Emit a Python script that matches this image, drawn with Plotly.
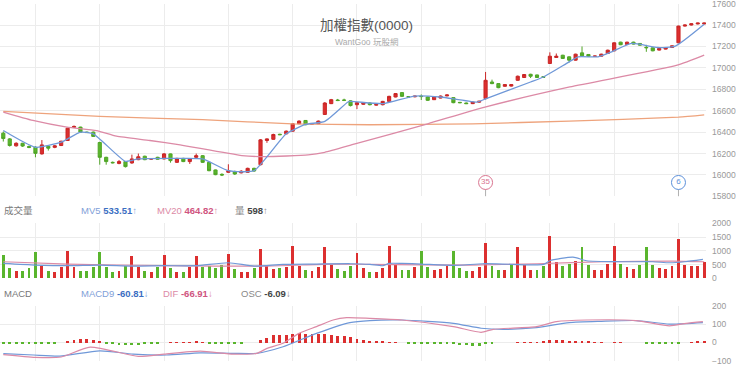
import plotly.graph_objects as go

# ---------------- data ----------------
opens = [16390,16337,16272,16296,16265,16259,16197,16268,16258,16275,
         16322,16445,16447,16400,16400,16303,16165,16118,16108,16125,
         16112,16143,16175,16148,16165,16150,16197,16118,16155,16125,
         16165,16180,16118,16047,16006,16025,16033,16020,16025,16062,
         16096,16322,16333,16380,16384,16409,16478,16509,16474,16478,
         16565,16666,16700,16700,16692,16656,16660,16672,16652,16656,
         16687,16728,16769,16730,16730,16736,16728,16703,16718,16738,
         16722,16678,16672,16666,16680,16713,16868,16853,16828,16830,
         16884,16910,16940,16934,16918,17041,17097,17118,17103,17072,
         17140,17125,17108,17109,17134,17159,17240,17219,17240,17228,
         17192,17187,17166,17175,17190,17234,17390,17400,17410,17410]
highs = [16406,16345,16305,16300,16275,16268,16326,16275,16280,16320,
         16440,16462,16450,16405,16405,16310,16170,16125,16140,16130,
         16190,16200,16180,16158,16170,16205,16200,16160,16160,16155,
         16200,16185,16120,16050,16015,16100,16040,16045,16068,16068,
         16335,16342,16385,16385,16415,16485,16510,16512,16485,16508,
         16680,16710,16710,16712,16697,16680,16680,16678,16662,16692,
         16740,16765,16772,16735,16740,16752,16732,16732,16742,16752,
         16726,16682,16676,16685,16692,16962,16890,16856,16848,16848,
         16928,16942,16945,16937,16922,17145,17134,17122,17106,17132,
         17200,17128,17114,17132,17170,17238,17244,17244,17244,17231,
         17215,17190,17185,17194,17210,17394,17404,17416,17422,17422]
lows = [16312,16265,16265,16262,16250,16165,16190,16228,16250,16270,
        16318,16440,16395,16392,16355,16096,16096,16108,16100,16070,
        16105,16138,16138,16142,16142,16145,16115,16112,16120,16103,
        16160,16112,16035,15998,15990,16020,16000,16015,16020,16030,
        16090,16300,16330,16372,16380,16405,16475,16465,16470,16475,
        16560,16662,16690,16690,16640,16615,16655,16650,16648,16650,
        16683,16725,16730,16722,16725,16700,16692,16700,16715,16735,
        16670,16670,16662,16662,16676,16705,16848,16810,16825,16826,
        16880,16906,16905,16906,16910,17038,17094,17084,17050,17068,
        17108,17105,17104,17105,17130,17155,17212,17215,17218,17208,
        17150,17155,17162,17172,17186,17230,17386,17396,17406,17406]
closes = [16340,16275,16296,16270,16258,16202,16281,16250,16272,16315,
          16437,16453,16400,16396,16360,16165,16125,16114,16125,16078,
          16150,16170,16143,16152,16147,16197,16134,16155,16125,16150,
          16180,16118,16040,16003,16000,16040,16009,16035,16062,16037,
          16328,16337,16378,16376,16409,16478,16503,16469,16478,16503,
          16672,16703,16695,16697,16648,16675,16675,16656,16658,16687,
          16734,16760,16734,16728,16736,16732,16697,16728,16737,16747,
          16675,16675,16666,16681,16688,16884,16853,16815,16844,16844,
          16922,16938,16922,16910,16913,17109,17109,17088,17072,17128,
          17112,17109,17110,17128,17165,17234,17216,17240,17222,17212,
          17188,17159,17181,17190,17206,17390,17400,17412,17418,17418]

# price moving averages (candle index, value)
ma5_idx = [0,5,9,12,14,19,21,27,31,35,39,44,47,50,53.6,54,59,64,68,73.6,75,82,84,88,89.4,92.5,94.6,97.7,101.8,104.5,109]
ma5_val = [16415,16259,16306,16400,16384,16127,16150,16155,16150,16040,16040,16384,16472,16500,16681,16687,16666,16737,16728,16681,16710,16868,16915,17056,17103,17103,17150,17228,17190,17203,17407]
ma20_idx = [0,4.6,9.9,14.5,17.6,22.8,27.5,37.1,40.7,47.4,50,54.7,66,74.9,88.1,104.8,109]
ma20_val = [16587,16509,16447,16415,16362,16322,16281,16181,16171,16187,16212,16290,16478,16634,16822,17025,17119]
ma60_idx = [0,15,31,45,57,73,88,105,109]
ma60_val = [16593,16547,16516,16478,16469,16478,16503,16540,16562]

# volume
volume = [820,360,240,240,360,930,420,240,220,385,
          1000,385,240,240,385,950,410,220,250,420,
          795,385,250,205,400,845,350,220,220,385,
          795,410,420,375,480,870,340,230,230,360,
          1070,420,340,350,385,1170,445,300,240,385,
          1120,480,340,265,435,900,360,220,220,360,
          1180,520,280,280,385,990,385,290,310,420,
          1000,360,240,265,385,1265,435,290,280,460,
          1130,460,300,290,420,1530,600,435,505,625,
          1145,460,300,300,520,1170,520,385,340,460,
          1145,460,360,340,445,1410,480,420,420,598]
vol_up = ("ggrgggrgrr" "rrggggggrg" "rrgrgrgrgr" "rggggrgrrg" "rrrgrrrgrr"
          "rrgggrrgrr" "rrggrggrrr" "gggrrrggrg" "rrrggrrggr" "ggrrrrgrrg" "ggrrrrrrrr")
vol_ma5_idx = [0,5,10,15,20,25,30,35,39,43.5,48.7,54,57,59,60,62,65,70,74.6,77.7,84,85,88.6,90.7,96,101,103.6,106,108.8]
vol_ma5_val = [542,482,458,482,446,458,458,566,446,506,518,530,506,458,542,542,518,470,530,518,506,639,771,639,602,602,566,602,687]
vol_ma20_idx = [0,10,25,41,51,57,72.5,83,93.5,104,109]
vol_ma20_val = [602,518,458,446,518,506,482,530,602,626,602]

# MACD
dif_idx = [0,5,9,13.5,21,25,30.6,35.8,39.4,41,43.5,46,48.7,51.3,53.4,57,62,70,74.3,76.2,82.9,86,90.7,98.4,103.6,106.2,108.8]
dif_val = [-67,-82,-80,-26,-76,-64,-48,-64,-60,-33,-5,49,86,122,135,131,122,86,55,71,86,113,122,119,90,104,113]
sig_idx = [0,4.7,8.8,15,20.2,25.4,30.6,35.8,39.4,43.5,48.7,53.9,57,62,70,74.3,77.7,82.9,88,93,98.4,103.6,108.8]
sig_val = [-61,-69,-75,-46,-64,-69,-57,-60,-60,-24,49,108,119,122,104,77,71,80,108,115,119,100,108]
osc = [-6,-7,-8,-9,-9,-8,-7,-6,-5,0,
       9,13,20,20,16,5,-3,-9,-11,-13,
       -13,-11,-9,-6,-4,0,2,2,2,3,
       4,2,-2,-3,-3,-3,-3,-2,0,0,
       16,27,40,44,44,49,53,49,46,46,
       46,44,38,35,31,20,16,9,5,4,
       1,1,0,-2,-2,-4,-5,-7,-7,-9,
       -9,-13,-15,-16,-16,-9,-4,0,0,0,
       2,3,3,3,4,13,15,13,11,11,
       7,4,2,2,0,2,2,0,0,0,
       -4,-5,-7,-7,-6,-2,0,2,4,4]

# event markers
event_idx = [75, 105]
event_text = ["35", "6"]

# axis ticks
price_ticks = [15800,16000,16200,16400,16600,16800,17000,17200,17400,17600]
vol_ticks = [0,500,1000,1500,2000]
macd_ticks = [-100,0,100,200]
grid_x = [5,15,25,35,45,55,65,75,85,95,105]

# legend texts
title_text = "加權指數(0000)"
sub_text = "WantGoo 玩股網"

# ---------------- style ----------------
RED = "#dc2f2f"
GREEN = "#59b52d"
BLUE = "#6f98d8"
PINK = "#dc8aa6"
ORANGE = "#eea37c"
W, H = 740, 369
PW = 706  # plot width in px

n = len(opens)
xs = list(range(n))

def py(p):
    return 1 - p / H

fig = go.Figure()

fig.add_trace(go.Candlestick(
    x=xs, open=opens, high=highs, low=lows, close=closes,
    increasing=dict(line=dict(color="#c92626", width=1), fillcolor=RED),
    decreasing=dict(line=dict(color="#4fa526", width=1), fillcolor=GREEN),
    whiskerwidth=0, xaxis="x", yaxis="y", hoverinfo="skip", showlegend=False))

for ix, vals, col in [(ma60_idx, ma60_val, ORANGE), (ma20_idx, ma20_val, PINK), (ma5_idx, ma5_val, BLUE)]:
    fig.add_trace(go.Scatter(x=ix, y=vals, mode="lines",
                             line=dict(color=col, width=1.3, shape="spline", smoothing=0.5),
                             xaxis="x", yaxis="y", hoverinfo="skip", showlegend=False))

# event markers
ev_colors = ["#d9748f", "#5b8fd9"]
EV_Y = 15930
stick_x, stick_y = [], []
for e in event_idx:
    stick_x += [e, e, None]
    stick_y += [EV_Y - 55, 15800, None]
fig.add_trace(go.Scatter(x=stick_x, y=stick_y, mode="lines",
                         line=dict(color="#b0b0b0", width=1), xaxis="x", yaxis="y",
                         hoverinfo="skip", showlegend=False))
fig.add_trace(go.Scatter(x=event_idx, y=[EV_Y] * len(event_idx), mode="markers+text",
                         text=event_text, textposition="middle center",
                         textfont=dict(size=8, color=ev_colors, family="Liberation Sans"),
                         marker=dict(size=14, color="white", line=dict(color=ev_colors, width=1)),
                         xaxis="x", yaxis="y", hoverinfo="skip", showlegend=False))

# volume
vcols = [RED if vol_up[i] == "r" else GREEN for i in range(n)]
fig.add_trace(go.Bar(x=xs, y=volume, marker=dict(color=vcols, line=dict(width=0)), width=0.45,
                     xaxis="x2", yaxis="y2", hoverinfo="skip", showlegend=False))
fig.add_trace(go.Scatter(x=vol_ma20_idx, y=vol_ma20_val, mode="lines",
                         line=dict(color=PINK, width=1.2, shape="spline", smoothing=0.6),
                         xaxis="x2", yaxis="y2", hoverinfo="skip", showlegend=False))
fig.add_trace(go.Scatter(x=vol_ma5_idx, y=vol_ma5_val, mode="lines",
                         line=dict(color=BLUE, width=1.2, shape="spline", smoothing=0.6),
                         xaxis="x2", yaxis="y2", hoverinfo="skip", showlegend=False))

# MACD
ocols = [RED if v >= 0 else GREEN for v in osc]
fig.add_trace(go.Bar(x=xs, y=osc, marker=dict(color=ocols, line=dict(width=0)), width=0.45,
                     xaxis="x3", yaxis="y3", hoverinfo="skip", showlegend=False))
fig.add_trace(go.Scatter(x=sig_idx, y=sig_val, mode="lines",
                         line=dict(color=BLUE, width=1.2, shape="spline", smoothing=0.6),
                         xaxis="x3", yaxis="y3", hoverinfo="skip", showlegend=False))
fig.add_trace(go.Scatter(x=dif_idx, y=dif_val, mode="lines",
                         line=dict(color=PINK, width=1.2, shape="spline", smoothing=0.6),
                         xaxis="x3", yaxis="y3", hoverinfo="skip", showlegend=False))

XR = [-0.513, 109.28]
xcommon = dict(range=XR, tickvals=grid_x, showticklabels=False, showgrid=True,
               gridcolor="#ececec", gridwidth=1, zeroline=False, showline=False,
               ticks="", fixedrange=True)
ycommon = dict(side="right", showgrid=True, gridcolor="#ececec", zeroline=False,
               showline=False, ticks="", tickformat="d",
               tickfont=dict(size=8.5, color="#999999", family="Liberation Sans"),
               ticklabelstandoff=5, ticklabeloverflow="allow", automargin=False, fixedrange=True)

fig.update_layout(
    width=W, height=H, margin=dict(l=0, r=W - PW, t=0, b=0),
    paper_bgcolor="white", plot_bgcolor="white",
    font=dict(family="Liberation Sans, Noto Sans CJK TC, sans-serif"),
    showlegend=False, bargap=0,
    xaxis=dict(**xcommon, anchor="y", rangeslider=dict(visible=False)),
    xaxis2=dict(**xcommon, anchor="y2", matches="x"),
    xaxis3=dict(**xcommon, anchor="y3", matches="x"),
    yaxis=dict(**ycommon, domain=[py(196.4), py(3.6)], range=[15800, 17600], tickvals=price_ticks),
    yaxis2=dict(**ycommon, domain=[py(278.3), py(223.3)], range=[0, 2000], tickvals=vol_ticks),
    yaxis3=dict(**ycommon, domain=[py(360.7), py(305.7)], range=[-100, 200], tickvals=macd_ticks),
)

def ann(text, xpx, ypx, size, color, anchor="left"):
    fig.add_annotation(text=text, x=xpx / PW, y=py(ypx), xref="paper", yref="paper",
                       xanchor=anchor, yanchor="middle", showarrow=False,
                       font=dict(size=size, color=color))

ann(title_text, 366, 26, 13.5, "#555555", "center")
ann(sub_text, 366, 42, 8.5, "#aaaaaa", "center")

LB, VB = "#7fa0d8", "#3b6ec2"
LP, VP = "#dc8aa6", "#cf5580"
LG, VG = "#888888", "#444444"
def lab(name, val, arrow, lc, vc):
    return (f"<span style='color:{lc}'>{name} </span><b><span style='color:{vc}'>{val}</span></b>"
            f"<span style='color:{lc}'>{arrow}</span>")

ann("成交量", 2, 210, 9.5, "#777777")
ann(lab("MV5", "533.51", "↑", LB, VB), 79, 210, 9.5, LB)
ann(lab("MV20", "464.82", "↑", LP, VP), 155, 210, 9.5, LP)
ann(lab("量", "598", "↑", LG, VG), 233, 210, 9.5, LG)

ann("MACD", 2, 293, 9.5, "#777777")
ann(lab("MACD9", "-60.81", "↓", LB, VB), 79, 293, 9.5, LB)
ann(lab("DIF", "-66.91", "↓", LP, VP), 161, 293, 9.5, LP)
ann(lab("OSC", "-6.09", "↓", LG, VG), 239, 293, 9.5, LG)

fig.write_html("out.html", config={"displayModeBar": False},
               post_script="document.body.style.margin='0';document.body.style.overflow='hidden';")
